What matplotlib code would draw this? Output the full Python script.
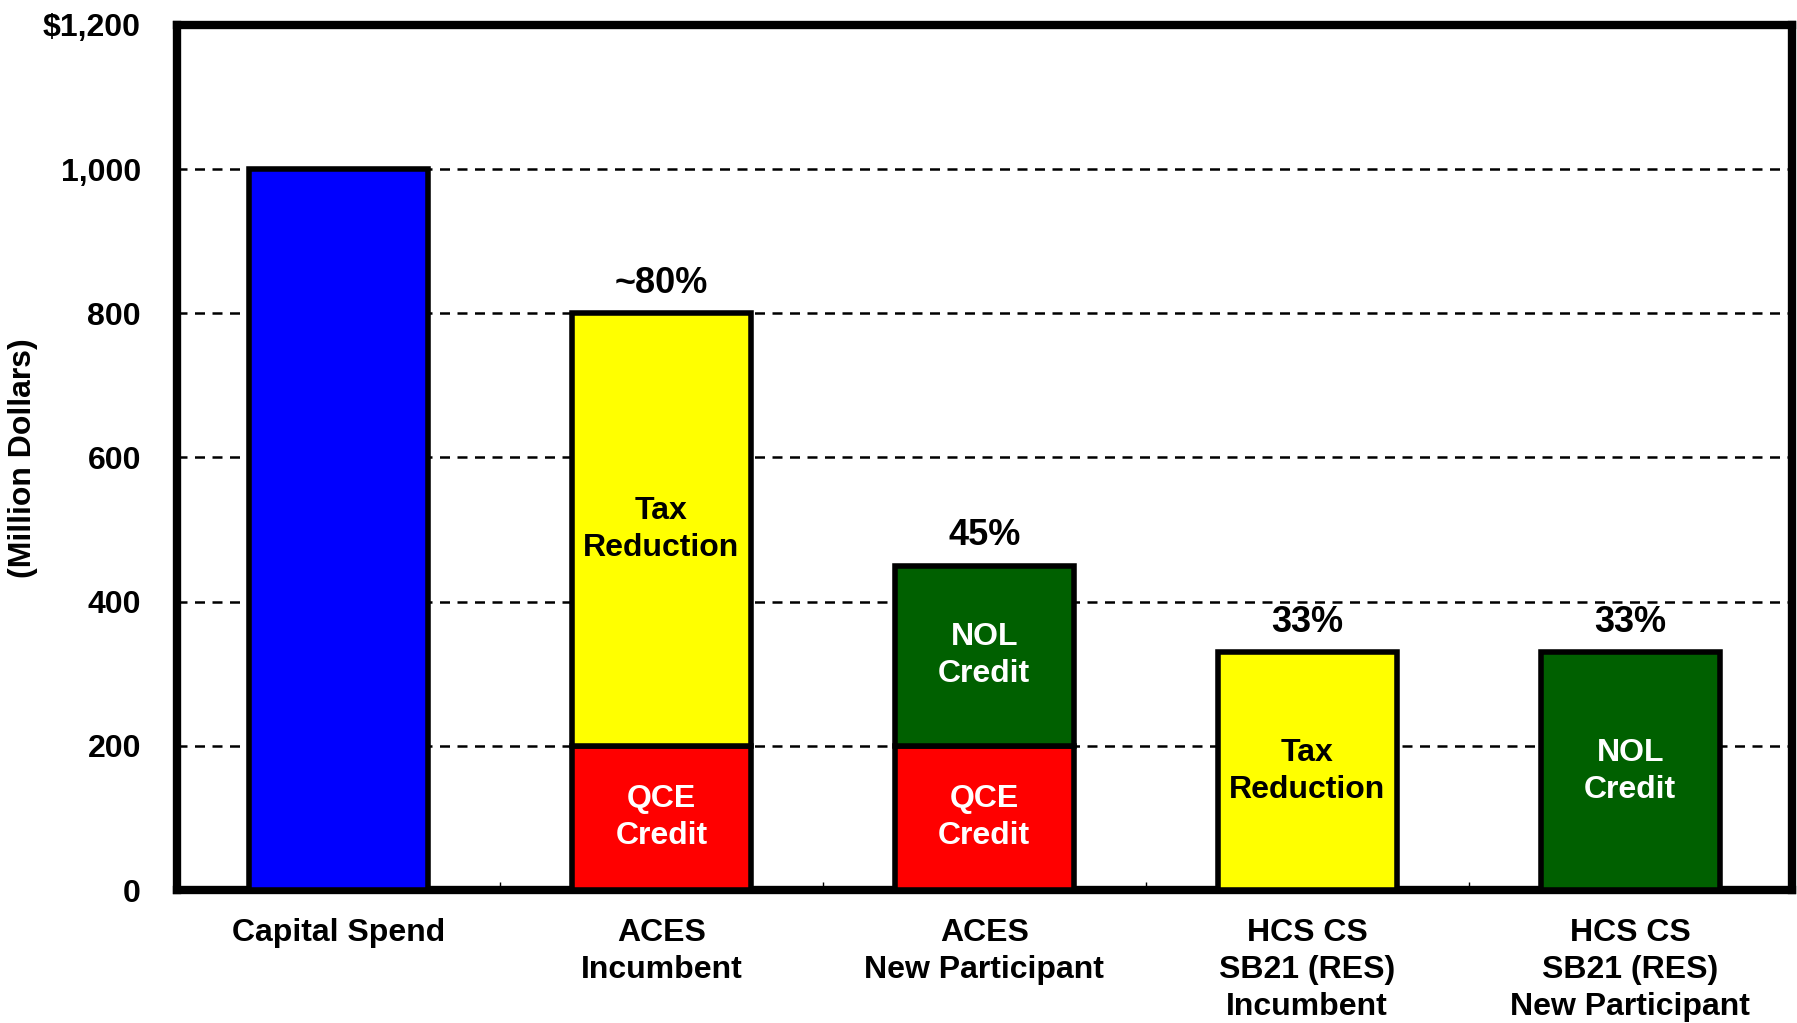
import numpy as np
import matplotlib
matplotlib.use("Agg")
import matplotlib.pyplot as plt

# categories and stacked segments (million dollars)
categories = ["Capital Spend", "ACES\nIncumbent", "ACES\nNew Participant",
              "HCS CS\nSB21 (RES)\nIncumbent", "HCS CS\nSB21 (RES)\nNew Participant"]
capital = [1000, 0, 0, 0, 0]
qce_credit = [0, 200, 200, 0, 0]
tax_reduction = [0, 600, 0, 330, 0]
nol_credit = [0, 0, 250, 0, 330]
pct_labels = ["", "~80%", "45%", "33%", "33%"]

BLUE = "#0000FF"
RED = "#FF0000"
YELLOW = "#FFFF00"
GREEN = "#006000"

plt.rcParams['font.family'] = ['Liberation Sans', 'DejaVu Sans']
plt.rcParams['font.weight'] = 'bold'

fig = plt.figure(figsize=(17.97, 10.23), dpi=100)
ax = fig.add_axes([0.0985, 0.130, 0.8985, 0.8456])

x = np.arange(len(categories))
w = 0.555
edge = dict(edgecolor="black", linewidth=4, zorder=3)

ax.bar(x, capital, w, color=BLUE, **edge)
ax.bar(x, qce_credit, w, color=RED, **edge)
ax.bar(x, tax_reduction, w, bottom=qce_credit, color=YELLOW, **edge)
bottom_nol = np.array(qce_credit) + np.array(tax_reduction)
ax.bar(x, nol_credit, w, bottom=bottom_nol, color=GREEN, **edge)

# hide zero-height bars
for p in ax.patches:
    if p.get_height() == 0:
        p.set_visible(False)

fs = 23
# segment labels
for i in range(len(categories)):
    if qce_credit[i]:
        ax.text(x[i], qce_credit[i] / 2, "QCE\nCredit", ha="center", va="center",
                color="white", fontsize=fs, fontweight="bold", linespacing=1.3, zorder=4)
    if tax_reduction[i]:
        ax.text(x[i], qce_credit[i] + tax_reduction[i] / 2, "Tax\nReduction",
                ha="center", va="center", color="black", fontsize=fs,
                fontweight="bold", linespacing=1.3, zorder=4)
    if nol_credit[i]:
        ax.text(x[i], bottom_nol[i] + nol_credit[i] / 2, "NOL\nCredit",
                ha="center", va="center", color="white", fontsize=fs,
                fontweight="bold", linespacing=1.3, zorder=4)
    total = capital[i] + qce_credit[i] + tax_reduction[i] + nol_credit[i]
    if pct_labels[i]:
        ax.annotate(pct_labels[i], (x[i], total), xytext=(0, 9),
                    textcoords="offset points", ha="center", va="bottom",
                    fontsize=26, fontweight="bold", zorder=4)

ax.set_xlim(-0.5, len(categories) - 0.5)
ax.set_ylim(0, 1200)
yticks = [0, 200, 400, 600, 800, 1000, 1200]
ax.set_yticks(yticks)
ax.set_yticklabels([f"${v:,}" if v == 1200 else f"{v:,}" for v in yticks])
ax.set_xticks(x)
ax.set_xticklabels(categories, linespacing=1.3)
ax.set_xticks(np.arange(0.5, len(categories) - 0.5, 1), minor=True)
ax.tick_params(axis="x", which="major", length=0, pad=20, labelsize=fs)
ax.tick_params(axis="x", which="minor", direction="in", length=6, width=1)
ax.tick_params(axis="y", length=0, pad=26, labelsize=fs)

fig.text(0.013, 1 - 458 / 1023, "(Million Dollars)", rotation=90, ha="center",
         va="center", fontsize=fs, fontweight="bold")

for y in [200, 400, 600, 800, 1000]:
    ax.axhline(y, color="black", linestyle=(0, (4, 3)), linewidth=1.8, zorder=1)

for s in ax.spines.values():
    s.set_linewidth(6)

fig.savefig("out.png", dpi=100)
